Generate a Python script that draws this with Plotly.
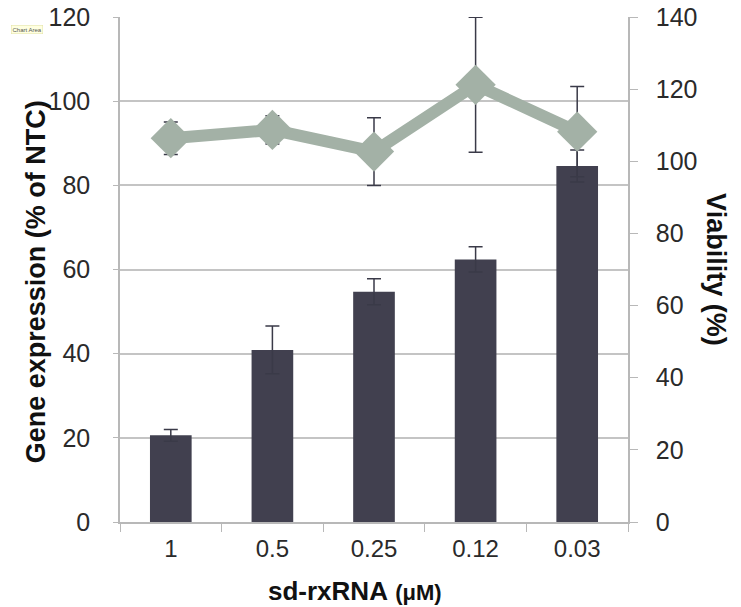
import plotly.graph_objects as go

categories = ["1", "0.5", "0.25", "0.12", "0.03"]
gene_expression = [20.6, 40.9, 54.7, 62.4, 84.6]
gene_err = [1.4, 5.7, 3.1, 3.0, 3.8]
viability = [106.4, 108.7, 102.7, 121.2, 108.2]
viability_err = [4.5, 3.9, 9.4, 18.7, 12.5]

bar_color = "#41404f"
line_color = "#a3b1a6"
err_color = "#3a3a48"
axis_gray = "#b8b8b8"
text_color = "#2a2a2a"
title_color = "#111111"

fig = go.Figure()
fig.add_trace(go.Bar(
    x=categories, y=gene_expression,
    marker=dict(color=bar_color, line=dict(width=0)),
    error_y=dict(type="data", array=gene_err, color=err_color, thickness=1.5, width=7),
    yaxis="y", showlegend=False,
))
fig.add_trace(go.Scatter(
    x=categories, y=viability, mode="lines+markers",
    line=dict(color=line_color, width=12),
    marker=dict(symbol="diamond", size=31, color=line_color),
    error_y=dict(type="data", array=viability_err, color=err_color, thickness=1.5, width=7),
    yaxis="y2", showlegend=False,
))

fig.update_layout(
    width=733, height=599,
    margin=dict(l=112, r=113, t=9, b=85, autoexpand=False),
    paper_bgcolor="white", plot_bgcolor="white",
    font=dict(family="Liberation Sans, Arial", color=text_color, size=24),
    bargap=0.59,
    xaxis=dict(
        type="category", showgrid=False, showline=True, linecolor=axis_gray, linewidth=1.5,
        ticks="outside", tickson="boundaries", ticklen=8, tickcolor=axis_gray,
        tickfont=dict(size=24, color=text_color), ticklabelstandoff=4,
        automargin=False,
    ),
    yaxis=dict(
        range=[0, 120], dtick=20, showgrid=True, gridcolor="#c4c4c4", gridwidth=1.5,
        showline=True, linecolor=axis_gray, linewidth=1.5,
        ticks="outside", ticklen=5, tickcolor=axis_gray,
        tickfont=dict(size=25, color=text_color), zeroline=False,
        ticklabelstandoff=18, automargin=False, ticklabeloverflow="allow",
    ),
    yaxis2=dict(
        range=[0, 140], dtick=20, overlaying="y", side="right", showgrid=False,
        showline=True, linecolor=axis_gray, linewidth=1.5,
        ticks="outside", ticklen=8, tickcolor=axis_gray,
        tickfont=dict(size=25, color=text_color), zeroline=False,
        ticklabelstandoff=13, automargin=False, ticklabeloverflow="allow",
    ),
    annotations=[
        dict(text="<b>sd-rxRNA</b> <b><span style='font-size:22px'>(μM)</span></b>",
             xref="paper", yref="paper", x=0.463, y=-0.136,
             xanchor="center", yanchor="middle", showarrow=False,
             font=dict(size=26, color=title_color)),
        dict(text="<b>Gene expression (% of NTC)</b>",
             xref="paper", yref="paper", x=-0.165, y=0.475, textangle=-90,
             xanchor="center", yanchor="middle", showarrow=False,
             font=dict(size=27, color=title_color)),
        dict(text="<b>Viability (%)</b>",
             xref="paper", yref="paper", x=1.173, y=0.499, textangle=90,
             xanchor="center", yanchor="middle", showarrow=False,
             font=dict(size=27, color=title_color)),
        dict(text="Chart Area", xref="paper", yref="paper", x=-0.183, y=0.976,
             xanchor="center", yanchor="middle", showarrow=False,
             font=dict(size=6, color="#555555"), bgcolor="#ffffe0",
             bordercolor="#e0e0a0", borderwidth=0.5, borderpad=1),
    ],
)

fig.write_html("out.html")
